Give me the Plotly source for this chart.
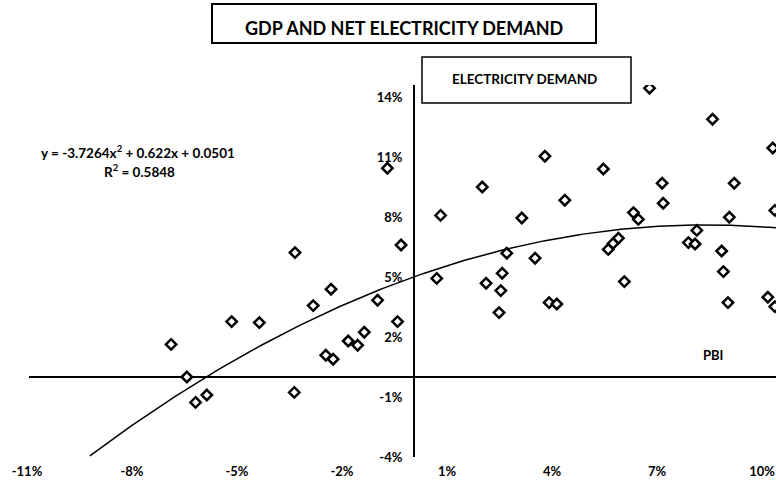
import numpy as np
import plotly.graph_objects as go

# ---- data (percent) ----
gdp_growth = [-6.94, -6.49, -6.24, -5.92, -5.21, -4.42, -3.40, -3.42, -2.88, -2.37,
              -2.52, -2.31, -1.88, -1.61, -1.42, -1.04, -0.76, -0.47, -0.37,
              0.65, 0.76, 1.95, 2.06, 2.43, 2.48, 2.52, 2.65, 3.08, 3.46,
              3.74, 3.86, 4.08, 4.31, 5.41, 5.55, 5.69, 5.84, 6.01, 6.27,
              6.41, 6.73, 7.09, 7.12, 7.84, 8.03, 8.08, 8.53, 8.79, 8.84,
              8.97, 9.01, 9.15, 10.11, 10.25, 10.31, 10.31]
demand_growth = [1.63, 0.00, -1.27, -0.90, 2.77, 2.72, 6.22, -0.77, 3.57, 4.39,
                 1.09, 0.89, 1.80, 1.59, 2.24, 3.84, 10.44, 2.77, 6.60,
                 4.93, 8.08, 9.50, 4.69, 3.22, 4.32, 5.19, 6.19, 7.95, 5.94,
                 11.04, 3.72, 3.65, 8.84, 10.40, 6.38, 6.68, 6.94, 4.77, 8.22,
                 7.88, 14.44, 9.69, 8.69, 6.72, 6.65, 7.33, 12.89, 6.30, 5.27,
                 3.72, 7.99, 9.69, 3.99, 11.45, 8.33, 3.52]

# trendline coefficients (fractions), as printed on the chart
coef_a, coef_b, coef_c = -3.7264, 0.622, 0.0501
trend_start = -9.26

x_ticks = [-11, -8, -5, -2, 1, 4, 7, 10]
y_ticks = [-4, -1, 2, 5, 8, 11, 14]
x_labels = [f"{v}%" for v in x_ticks]
y_labels = [f"{v}%" for v in y_ticks]

# ---- layout geometry ----
W, H = 776, 489
L, R, T, B = 29, 0, 85, 32
x_min, px_per_unit = -11, 35.0
x_max = x_min + (W - L - R) / px_per_unit
y_min, y_max = -4, 14.6
pw, ph = W - L - R, H - T - B

def px(xp):
    return (xp - L) / pw

def py(yp):
    return (H - B - yp) / ph

trend_x = np.linspace(trend_start, x_max, 200)
fx = trend_x / 100
trend_y = (coef_a * fx**2 + coef_b * fx + coef_c) * 100

FONT = "Lato"

fig = go.Figure()
fig.add_trace(go.Scatter(
    x=trend_x, y=trend_y, mode="lines",
    line=dict(color="black", width=1.5), hoverinfo="skip", showlegend=False))
fig.add_trace(go.Scatter(
    x=gdp_growth, y=demand_growth, mode="markers",
    marker=dict(symbol="diamond", size=8, color="white",
                line=dict(color="black", width=2.5)),
    showlegend=False))

yaxis_pos = (0 - x_min) / (x_max - x_min)

fig.update_layout(
    width=W, height=H,
    margin=dict(l=L, r=R, t=T, b=B, pad=0, autoexpand=False),
    paper_bgcolor="white", plot_bgcolor="white",
    font=dict(family=FONT, color="black", size=12, weight=700),
    xaxis=dict(range=[x_min, x_max], showgrid=False, zeroline=False,
               showline=False, tickvals=x_ticks, ticktext=x_labels,
               ticks="", ticklabelstandoff=5, automargin=False,
               ticklabeloverflow="allow", ticklabelshift=-2,
               tickfont=dict(family=FONT, size=13, color="black", weight=700)),
    yaxis=dict(range=[y_min, y_max], showgrid=False, zeroline=True,
               zerolinecolor="black", zerolinewidth=2,
               showline=True, linecolor="black", linewidth=2,
               anchor="free", position=yaxis_pos, automargin=False,
               tickvals=y_ticks, ticktext=y_labels, ticks="",
               ticklabelstandoff=8,
               tickfont=dict(family=FONT, size=13, color="black", weight=700)),
    shapes=[
        dict(type="rect", xref="paper", yref="paper",
             x0=px(212), x1=px(596), y0=py(43), y1=py(4),
             line=dict(color="black", width=2), fillcolor="white", layer="above"),
        dict(type="rect", xref="paper", yref="paper",
             x0=px(422), x1=px(631), y0=py(103), y1=py(57),
             line=dict(color="black", width=1.5), fillcolor="white", layer="above"),
    ],
    annotations=[
        dict(text="GDP AND NET ELECTRICITY DEMAND", xref="paper", yref="paper",
             x=px(404), y=py(28), showarrow=False, xanchor="center", yanchor="middle",
             font=dict(family=FONT, size=18, color="black", weight=700)),
        dict(text="ELECTRICITY DEMAND", xref="paper", yref="paper",
             x=px(524), y=py(79), showarrow=False, xanchor="center", yanchor="middle",
             font=dict(family=FONT, size=13.5, color="black", weight=700)),
        dict(text="y = -3.7264x<sup>2</sup> + 0.622x + 0.0501", xref="paper", yref="paper",
             x=px(138), y=py(152), showarrow=False, xanchor="center", yanchor="middle",
             font=dict(family=FONT, size=13.5, color="black", weight=700)),
        dict(text="R<sup>2</sup> = 0.5848", xref="paper", yref="paper",
             x=px(139), y=py(171), showarrow=False, xanchor="center", yanchor="middle",
             font=dict(family=FONT, size=13.5, color="black", weight=700)),
        dict(text="PBI", xref="paper", yref="paper",
             x=px(713), y=py(355), showarrow=False, xanchor="center", yanchor="middle",
             font=dict(family=FONT, size=13, color="black", weight=700)),
    ],
)

fig.write_html(
    "out.html",
    config={"displayModeBar": False},
    post_script="document.body.style.margin='0';document.body.style.padding='0';"
                "document.documentElement.style.overflow='hidden';",
)
